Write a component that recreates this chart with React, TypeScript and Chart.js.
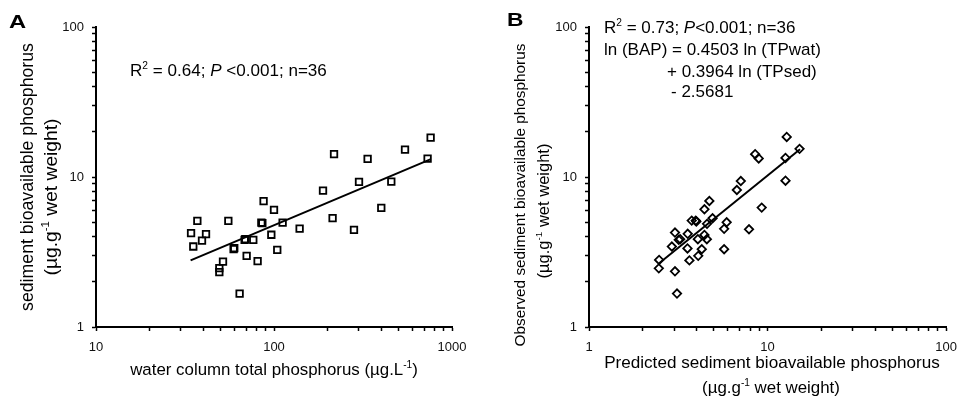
import React, { useEffect, useRef } from 'react';
import { Chart, registerables } from 'chart.js';

Chart.register(...registerables);

// ---------- data ----------
// Panel A: water column total phosphorus (µg/L) vs sediment bioavailable phosphorus (µg/g wet weight)
const A_TP_WATER = [
  34.2, 35.2, 37.1, 39.4, 41.5, 49.3, 49.3, 51.7, 55.4, 59.3, 59.8, 64.1,
  68.4, 69.0, 70.2, 76.5, 80.9, 87.4, 84.9, 86.0, 96.6, 100, 104.3, 111.8,
  139.3, 188.5, 213.4, 217.4, 281.4, 300.3, 335.7, 400.6, 456, 544.5, 729.3, 758.5,
];
const A_BAP = [
  4.23, 3.44, 5.1, 3.77, 4.16, 2.47, 2.32, 2.73, 5.1, 3.31, 3.36, 1.67,
  3.81, 3.85, 2.98, 3.81, 2.75, 6.9, 4.97, 4.93, 4.12, 6.04, 3.27, 4.97,
  4.53, 8.12, 5.32, 14.19, 4.44, 9.28, 13.2, 6.23, 9.32, 15.22, 13.26, 18.3,
];
const A_FIT_X = [34, 755];
const A_FIT_Y = [2.78, 13.1];

// Panel B: predicted vs observed sediment bioavailable phosphorus
const B_PREDICTED = [
  2.47, 2.46, 3.03, 2.91, 3.03, 3.11, 3.18, 3.24, 3.57, 3.56, 3.65, 3.76,
  3.99, 3.96, 4.07, 4.09, 4.28, 4.43, 4.43, 4.57, 4.58, 4.72, 4.92, 5.71,
  5.71, 5.9, 6.73, 7.08, 7.87, 9.27, 8.52, 8.92, 12.6, 12.6, 12.8, 15.1,
];
const B_OBSERVED = [
  2.8, 2.46, 4.26, 3.44, 2.35, 1.67, 3.81, 3.85, 4.18, 3.34, 2.78, 5.12,
  5.05, 5.12, 3.85, 2.98, 3.3, 6.09, 4.11, 3.85, 4.87, 6.92, 5.31, 3.3,
  4.51, 4.99, 8.19, 9.4, 4.48, 6.25, 14.2, 13.3, 9.45, 13.4, 18.5, 15.4,
];
const B_FIT_X = [2.47, 15.2];
const B_FIT_Y = [2.66, 15.3];

// ticks
const Y_TICKS = [1, 2, 3, 4, 5, 6, 7, 8, 9, 10, 20, 30, 40, 50, 60, 70, 80, 90, 100];
const Y_LABELS = [1, 10, 100];
const A_X_TICKS = [10, 20, 30, 40, 50, 60, 70, 80, 90, 100, 200, 300, 400, 500, 600, 700, 800, 900, 1000];
const A_X_LABELS = [10, 100, 1000];
const B_X_TICKS = [1, 2, 3, 4, 5, 6, 7, 8, 9, 10, 20, 30, 40, 50, 60, 70, 80, 90, 100];
const B_X_LABELS = [1, 10, 100];

// ---------- text helpers ----------
const FONT = '"Liberation Sans", Arial, Helvetica, sans-serif';
type Seg = { t: string; sup?: boolean; it?: boolean; b?: boolean };

function segFont(s: Seg, size: number) {
  const sz = s.sup ? size * 0.6 : size;
  return `${s.it ? 'italic ' : ''}${s.b ? 'bold ' : ''}${sz}px ${FONT}`;
}
function measureRich(ctx: CanvasRenderingContext2D, segs: Seg[], size: number) {
  let w = 0;
  for (const s of segs) {
    ctx.font = segFont(s, size);
    w += ctx.measureText(s.t).width;
  }
  return w;
}
function drawRich(
  ctx: CanvasRenderingContext2D,
  segs: Seg[],
  x: number,
  y: number,
  opt: { size: number; width?: number; align?: 'left' | 'center'; rotate?: boolean; sx?: number }
) {
  let size = opt.size;
  if (opt.width) size = (size * opt.width) / measureRich(ctx, segs, size);
  const total = measureRich(ctx, segs, size);
  ctx.save();
  ctx.translate(x, y);
  if (opt.rotate) ctx.rotate(-Math.PI / 2);
  if (opt.sx) ctx.scale(opt.sx, 1);
  let cx = opt.align === 'center' ? -total / 2 : 0;
  ctx.textBaseline = 'alphabetic';
  ctx.textAlign = 'left';
  ctx.fillStyle = '#000';
  for (const s of segs) {
    ctx.font = segFont(s, size);
    ctx.fillText(s.t, cx, s.sup ? -size * 0.42 : 0);
    cx += ctx.measureText(s.t).width;
  }
  ctx.restore();
}

type TextItem = {
  segs: Seg[];
  x: number;
  y: number;
  size: number;
  width?: number;
  align?: 'left' | 'center';
  rotate?: boolean;
  sx?: number;
};

const UNIT_G: Seg[] = [{ t: '(µg.g' }, { t: '-1', sup: true }, { t: ' wet weight)' }];

const TEXT_A: TextItem[] = [
  { segs: [{ t: 'A', b: true }], x: 9, y: 28, size: 19, sx: 1.25 },
  {
    segs: [{ t: 'R' }, { t: '2', sup: true }, { t: ' = 0.64; ' }, { t: 'P', it: true }, { t: ' <0.001; n=36' }],
    x: 130, y: 76, size: 17, width: 197,
  },
  {
    segs: [{ t: 'water column total phosphorus (µg.L' }, { t: '-1', sup: true }, { t: ')' }],
    x: 274, y: 375, size: 17, width: 288, align: 'center',
  },
  { segs: [{ t: 'sediment bioavailable phosphorus' }], x: 32.5, y: 177, size: 17, width: 268, align: 'center', rotate: true },
  { segs: UNIT_G, x: 57, y: 197, size: 17, width: 157, align: 'center', rotate: true },
];

const TEXT_B: TextItem[] = [
  { segs: [{ t: 'B', b: true }], x: 507, y: 25.5, size: 19, sx: 1.2 },
  {
    segs: [{ t: 'R' }, { t: '2', sup: true }, { t: ' = 0.73; ' }, { t: 'P', it: true }, { t: '<0.001; n=36' }],
    x: 604, y: 33, size: 17,
  },
  { segs: [{ t: 'ln (BAP) = 0.4503 ln (TPwat)' }], x: 604, y: 55, size: 17 },
  { segs: [{ t: '+ 0.3964 ln (TPsed)' }], x: 667, y: 76.5, size: 17 },
  { segs: [{ t: '- 2.5681' }], x: 671, y: 97, size: 17 },
  {
    segs: [{ t: 'Predicted sediment bioavailable phosphorus' }],
    x: 772, y: 368, size: 17, width: 336, align: 'center',
  },
  { segs: UNIT_G, x: 771, y: 393, size: 17, width: 138, align: 'center' },
  {
    segs: [{ t: 'Observed sediment bioavailable phosphorus' }],
    x: 525, y: 195, size: 17, width: 303, align: 'center', rotate: true,
  },
  { segs: UNIT_G, x: 549, y: 211, size: 17, width: 135, align: 'center', rotate: true },
];

function textPlugin(items: TextItem[], offsetX: number) {
  return {
    id: 'richTexts',
    afterDraw(chart: any) {
      const ctx: CanvasRenderingContext2D = chart.ctx;
      ctx.save();
      ctx.translate(-offsetX, 0);
      for (const it of items) {
        drawRich(ctx, it.segs, it.x, it.y, {
          size: it.size,
          width: it.width,
          align: it.align,
          rotate: it.rotate,
          sx: it.sx,
        });
      }
      ctx.restore();
    },
  };
}

// ---------- chart config ----------
function logAxis(
  position: 'left' | 'bottom',
  min: number,
  max: number,
  tickValues: number[],
  labelValues: number[],
  size: number,
  padding: number
) {
  return {
    type: 'logarithmic',
    position,
    min,
    max,
    afterBuildTicks: (scale: any) => {
      scale.ticks = tickValues.map((v) => ({ value: v, major: labelValues.includes(v) }));
    },
    afterFit: (scale: any) => {
      if (position === 'left') scale.width = size;
      else scale.height = size;
    },
    grid: {
      display: true,
      drawOnChartArea: false,
      drawTicks: true,
      tickLength: 4,
      tickWidth: 1.5,
      tickColor: '#000',
      color: '#000',
    },
    border: { display: true, color: '#000', width: 2 },
    ticks: {
      autoSkip: false,
      maxRotation: 0,
      minRotation: 0,
      padding,
      color: '#111',
      font: { family: FONT, size: 13 },
      callback: (v: any) => (labelValues.includes(Number(v)) ? String(v) : ''),
    },
    title: { display: false },
  };
}

function makeConfig(
  xs: number[],
  ys: number[],
  fitX: number[],
  fitY: number[],
  pointStyle: string,
  pointRadius: number,
  xMin: number,
  xMax: number,
  xTicks: number[],
  xLabels: number[],
  yAxisWidth: number,
  padRight: number,
  texts: TextItem[],
  offsetX: number
): any {
  return {
    type: 'scatter',
    data: {
      datasets: [
        {
          data: xs.map((x, i) => ({ x, y: ys[i] })),
          pointStyle,
          pointRadius,
          pointBorderWidth: 1.8,
          pointBorderColor: '#000',
          pointBackgroundColor: 'rgba(0,0,0,0)',
          showLine: false,
        },
        {
          data: fitX.map((x, i) => ({ x, y: fitY[i] })),
          showLine: true,
          borderColor: '#000',
          borderWidth: 2,
          pointRadius: 0,
          fill: false,
        },
      ],
    },
    options: {
      animation: false,
      responsive: false,
      maintainAspectRatio: false,
      events: [],
      layout: { padding: { left: 0, top: 27, right: padRight, bottom: 0 } },
      plugins: { legend: { display: false }, tooltip: { enabled: false }, title: { display: false } },
      scales: {
        x: logAxis('bottom', xMin, xMax, xTicks, xLabels, 74, 9),
        y: logAxis('left', 1, 100, Y_TICKS, Y_LABELS, yAxisWidth, 8),
      },
    },
    plugins: [textPlugin(texts, offsetX)],
  };
}

function Panel({ left, width, build }: { left: number; width: number; build: () => any }) {
  const ref = useRef<HTMLCanvasElement>(null);
  useEffect(() => {
    const chart = new Chart(ref.current as HTMLCanvasElement, build());
    return () => chart.destroy();
  }, []);
  return (
    <canvas
      ref={ref}
      width={width}
      height={401}
      style={{ position: 'absolute', left, top: 0, width, height: 401 }}
    />
  );
}

export default function App() {
  return (
    <div style={{ position: 'absolute', left: 0, top: 0, width: 966, height: 401, background: '#fff' }}>
      <Panel
        left={0}
        width={480}
        build={() =>
          makeConfig(A_TP_WATER, A_BAP, A_FIT_X, A_FIT_Y, 'rect', 4.6, 10, 1000, A_X_TICKS, A_X_LABELS, 96, 28, TEXT_A, 0)
        }
      />
      <Panel
        left={480}
        width={486}
        build={() =>
          makeConfig(B_PREDICTED, B_OBSERVED, B_FIT_X, B_FIT_Y, 'rectRot', 4.2, 1, 100, B_X_TICKS, B_X_LABELS, 109, 13, TEXT_B, 480)
        }
      />
    </div>
  );
}
